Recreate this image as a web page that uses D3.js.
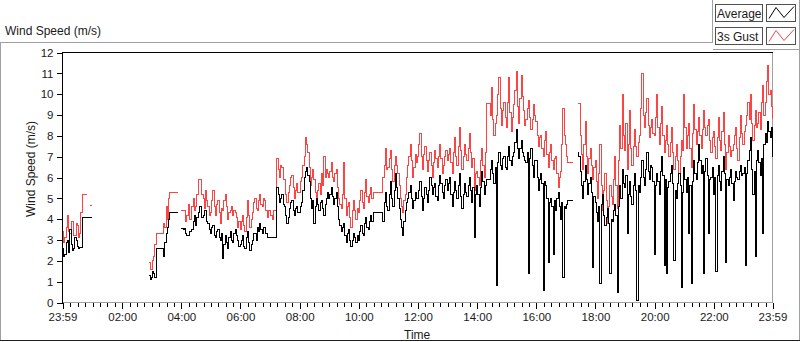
<!DOCTYPE html>
<html>
<head>
<meta charset="utf-8">
<script src="https://cdn.jsdelivr.net/npm/d3@7"></script>
<style>
  html, body { margin: 0; padding: 0; background: #fff; }
  svg text { font-family: "Liberation Sans", Arial, sans-serif; fill: #1a1a1a; }
</style>
</head>
<body>
<svg id="chart" width="800" height="342"></svg>
<script>
// one sample every 2.5 minutes, from 23:59 the day before to 23:59
const startTime = new Date(2020, 0, 1, 23, 59);
const stepSeconds = 150;
const seriesNames = ["Average", "3s Gust"];
const seriesColors = ["#000000", "#ff4242"];
const yTicks = [0, 1, 2, 3, 4, 5, 6, 7, 8, 9, 10, 11, 12];
const xTickLabels = ["23:59", "02:00", "04:00", "06:00", "08:00", "10:00", "12:00",
                     "14:00", "16:00", "18:00", "20:00", "22:00", "23:59"];

const average = [
  2.6, 2.2, 2.3, 2.9, 3.0, 2.4, 3.5, 2.8, 2.5, 2.6, 3.1, 3.0,
  2.7, 2.6, 2.65, 2.65, 4.1, 4.1, 4.1, 4.1, 4.1, 4.1, 4.1, 4.1,
  4.1, null, null, null, null, null, null, null, null, null, null, null,
  null, null, null, null, null, null, null, null, null, null, null, null,
  null, null, null, null, null, null, null, null, null, null, null, null,
  null, null, null, null, null, null, null, null, null, null, 1.3, 1.1,
  1.2, 1.5, 1.4, 1.2, 2.6, 2.6, 2.6, 2.6, 2.6, 2.6, 2.2, 2.9,
  3.3, 3.6, 4.0, 4.3, 4.3, 4.3, 4.3, 4.3, 4.3, 4.3, 4.3, null,
  3.55, 3.55, 3.5, 3.55, 3.3, 3.2, 3.2, 3.4, 3.4, 3.5, 3.9, 4.2,
  3.7, 4.1, 4.3, 4.6, 4.6, 4.1, 4.2, 4.4, 4.4, 3.9, 3.8, 3.5,
  3.3, 3.6, 3.7, 3.2, 3.1, 3.4, 3.5, 3.1, 3.0, 3.3, 2.1, 2.8,
  3.2, 2.9, 2.6, 3.1, 3.4, 3.0, 2.9, 3.3, 3.5, 3.2, 3.0, 2.7,
  2.8, 3.0, 3.2, 2.7, 2.6, 3.1, 3.4, 2.9, 2.5, 2.8, 3.0, 3.3,
  3.3, 3.0, 3.6, 3.4, 3.8, 3.5, 3.3, 3.6, 3.6, 3.3, 3.1, 3.1,
  3.1, 3.1, 3.1, 3.1, 3.1, 3.1, 5.5, 5.2, 4.8, 5.0, 5.2, 4.7,
  4.6, 4.2, 3.8, 4.1, 4.5, 4.8, 4.9, 4.4, 4.2, 4.5, 4.6, 4.3,
  4.3, 4.6, 4.8, 5.4, 6.0, 6.3, 6.5, 6.1, 5.8, 5.0, 4.5, 4.9,
  3.8, 4.6, 5.0, 4.7, 4.4, 4.8, 4.9, 4.5, 4.2, 4.7, 5.0, 5.3,
  5.0, 5.2, 5.5, 5.1, 4.7, 5.0, 5.3, 4.6, 4.0, 3.7, 3.4, 3.6,
  3.8, 3.2, 2.9, 3.3, 3.5, 3.0, 2.7, 3.0, 3.3, 3.1, 2.9, 3.2,
  3.0, 3.4, 3.7, 3.3, 3.2, 3.8, 4.1, 3.6, 3.5, 3.9, 4.2, 3.9,
  4.3, 4.3, 4.3, 4.3, 4.3, 4.3, 4.3, 4.3, 3.9, 4.8, 5.3, 4.6,
  4.4, 5.2, 5.8, 5.0, 4.6, 5.4, 6.2, 5.5, 5.0, 4.5, 4.0, 3.6,
  3.2, 3.9, 4.4, 4.8, 5.0, 5.3, 5.6, 5.0, 4.5, 4.9, 5.3, 5.0,
  5.0, 5.4, 5.8, 5.1, 4.4, 5.0, 5.5, 5.2, 4.8, 5.4, 6.0, 5.6,
  5.2, 5.5, 5.7, 5.1, 4.9, 5.6, 6.1, 5.7, 5.3, 5.0, 5.6, 5.9,
  5.4, 5.7, 6.0, 5.2, 4.6, 5.3, 5.8, 5.4, 5.0, 5.6, 6.2, 5.1,
  4.5, 5.2, 5.7, 5.3, 5.1, 5.6, 6.0, 5.4, 4.8, 5.5, 3.1, 5.2,
  5.6, 5.2, 4.6, 5.5, 6.3, 5.8, 5.2, 5.6, 5.9, 5.9, 5.9, 6.4,
  6.8, 6.2, 5.7, 6.5, 0.8, 6.7, 7.2, 6.6, 6.4, 6.9, 7.0, 6.5,
  6.4, 7.0, 7.5, 6.8, 6.6, 7.0, 7.2, 7.7, 8.3, 7.4, 6.9, 7.4,
  7.8, 7.2, 7.0, 6.8, 6.7, 7.2, 1.4, 6.9, 7.4, 6.6, 6.0, 6.8,
  6.8, 6.0, 5.4, 5.9, 6.2, 5.7, 0.6, 5.8, 5.6, 5.0, 1.9, 4.8,
  5.0, 4.6, 2.3, 4.9, 4.4, 5.0, 5.3, 4.6, 4.0, 4.8, 1.2, 4.6,
  4.5, 4.7, 4.9, 4.9, 4.9, 4.9, 4.9, null, null, null, 7.2, 7.0,
  6.3, 5.6, 5.0, 5.8, 6.6, 5.9, 5.2, 5.7, 6.0, 5.3, 1.7, 5.1,
  4.8, 4.3, 3.9, 4.6, 0.9, 4.7, 5.2, 4.2, 3.7, 4.1, 4.5, 3.8,
  1.4, 4.0, 3.9, 4.4, 4.7, 4.2, 0.5, 4.6, 5.6, 5.0, 6.4, 5.7,
  5.5, 6.1, 3.3, 5.2, 5.8, 5.1, 4.7, 5.6, 6.2, 5.4, 0.1, 5.6,
  5.3, 6.0, 6.8, 6.0, 5.6, 6.4, 7.2, 6.3, 5.9, 6.6, 6.5, 5.8,
  2.3, 5.6, 6.2, 5.8, 5.2, 6.3, 7.0, 6.1, 1.8, 5.9, 1.4, 5.5,
  5.8, 6.2, 6.6, 5.7, 2.0, 5.4, 5.0, 5.7, 6.2, 5.6, 0.7, 5.3,
  6.5, 5.9, 5.3, 6.0, 3.3, 5.6, 0.9, 5.8, 6.8, 6.2, 5.9, 6.7,
  7.6, 6.8, 6.2, 6.6, 1.4, 6.3, 6.9, 6.1, 3.3, 5.9, 6.0, 6.5,
  5.2, 6.0, 1.5, 6.1, 6.6, 5.8, 5.4, 6.3, 7.0, 6.2, 1.9, 5.9,
  5.6, 6.0, 6.4, 5.7, 4.9, 5.8, 6.3, 6.0, 5.9, 6.3, 6.6, 6.1,
  6.2, 6.5, 1.8, 6.2, 6.8, 7.3, 7.9, 6.4, 5.2, 6.3, 2.2, 6.8,
  7.3, 6.7, 6.1, 6.9, 3.3, 7.6, 8.1, 7.7, 8.7, 8.2, 7.9, 8.4,
  7.0
];

const gust = [
  3.4, 2.9, 3.1, 3.6, 4.2, 3.4, 3.3, 3.9, 3.9, 3.2, 3.2, 3.8,
  3.7, 3.1, 3.3, 4.3, 5.2, 5.2, 5.2, 5.2, 5.2, null, 4.65, 4.65,
  4.65, null, null, null, null, null, null, null, null, null, null, null,
  null, null, null, null, null, null, null, null, null, null, null, null,
  null, null, null, null, null, null, null, null, null, null, null, null,
  null, null, null, null, null, null, null, null, null, null, 1.9, 1.6,
  1.6, 2.0, 2.2, 2.8, 3.3, 3.3, 3.3, 3.3, 3.3, 3.3, 3.8, 3.6,
  4.6, 4.0, 5.0, 5.3, 5.3, 5.3, 5.3, 5.3, 5.3, 5.3, 5.3, null,
  4.4, 4.4, 4.4, 4.4, 3.9, 4.2, 4.7, 4.0, 4.0, 4.6, 5.0, 4.4,
  4.6, 5.2, 5.9, 5.9, 5.9, 5.2, 5.0, 4.5, 5.4, 4.9, 4.6, 4.2,
  4.3, 4.9, 5.4, 4.6, 4.2, 4.7, 4.9, 4.3, 3.8, 4.5, 4.4, 4.9,
  5.2, 4.6, 4.0, 4.3, 4.4, 4.6, 4.2, 4.4, 4.3, 4.1, 3.6, 3.9,
  3.5, 3.9, 4.2, 3.7, 3.4, 4.1, 4.9, 4.2, 3.6, 4.0, 4.3, 4.8,
  5.0, 4.5, 4.4, 4.9, 5.2, 4.7, 4.6, 5.0, 4.9, 4.4, 4.1, 4.4,
  4.4, 4.2, 4.0, 4.4, 4.4, 4.4, 6.9, 6.4, 6.0, 6.6, 6.5, 5.9,
  5.9, 5.2, 4.8, 5.3, 5.6, 6.0, 6.1, 5.5, 5.0, 5.4, 5.7, 5.3,
  5.3, 5.8, 6.0, 6.6, 7.0, 7.9, 7.6, 7.2, 6.5, 5.6, 6.0, 6.4,
  5.9, 5.3, 5.0, 5.4, 5.7, 5.2, 6.2, 5.6, 7.0, 6.0, 6.4, 6.2,
  6.0, 6.3, 6.7, 6.0, 5.8, 6.2, 6.4, 5.5, 5.0, 4.7, 4.5, 5.2,
  6.7, 5.0, 4.2, 4.6, 4.8, 4.1, 3.6, 4.4, 4.9, 4.4, 4.0, 4.5,
  4.3, 4.9, 5.4, 4.8, 4.5, 5.3, 5.9, 5.1, 4.8, 5.2, 5.5, 5.0,
  5.3, 5.3, 5.3, 5.3, 5.3, 5.3, 5.3, 5.3, 6.0, 6.6, 7.4, 6.4,
  6.5, 6.9, 7.3, 6.4, 5.8, 6.6, 7.0, 6.6, 6.2, 5.6, 5.0, 4.6,
  4.3, 4.9, 5.2, 6.0, 6.6, 7.0, 7.6, 6.8, 6.0, 6.5, 7.1, 6.7,
  7.0, 7.6, 8.1, 7.0, 6.4, 7.1, 7.5, 6.8, 6.3, 6.8, 7.2, 6.6,
  6.0, 6.7, 7.3, 6.9, 6.5, 7.0, 7.6, 6.9, 6.2, 6.6, 7.0, 7.3,
  6.8, 7.1, 7.4, 6.7, 6.2, 7.2, 7.9, 7.0, 6.6, 7.5, 8.4, 7.3,
  6.4, 7.0, 7.6, 7.1, 6.8, 7.4, 8.1, 7.2, 6.5, 6.9, 5.4, 6.2,
  6.3, 6.0, 5.6, 6.8, 7.4, 6.6, 6.0, 7.2, 9.55, 9.55, 9.55, 9.0,
  10.3, 8.8, 8.0, 8.6, 9.0, 10.0, 10.8, 9.3, 8.5, 9.2, 9.6, 8.9,
  8.4, 9.6, 10.8, 9.1, 8.2, 8.9, 9.5, 10.2, 11.1, 9.4, 8.6, 9.8,
  10.9, 9.9, 9.2, 8.5, 8.8, 9.3, 9.7, 8.9, 8.3, 8.8, 9.5, 9.0,
  8.7, 8.0, 7.5, 7.9, 8.0, 7.4, 7.0, 7.8, 8.2, 7.1, 6.5, 7.2,
  7.6, 6.8, 6.4, 6.9, 7.0, 6.2, 5.5, 6.0, 6.3, 7.6, 9.3, 8.0,
  7.6, 7.0, 6.7, 6.7, 6.7, 6.7, 6.7, null, null, null, 9.55, 9.55,
  8.0, 7.1, 6.4, 7.6, 8.7, 7.0, 6.2, 6.9, 7.4, 6.6, 5.9, 6.5,
  6.8, 5.8, 5.0, 6.2, 7.6, 5.6, 4.4, 5.4, 6.2, 4.9, 3.8, 4.6,
  5.6, 5.1, 4.7, 5.9, 7.0, 5.6, 4.5, 6.8, 8.5, 7.4, 10.0, 8.0,
  7.3, 8.6, 6.4, 7.6, 9.2, 7.4, 6.6, 7.5, 8.3, 7.5, 7.0, 7.7,
  8.0, 9.3, 11.0, 9.0, 8.4, 9.1, 9.8, 8.5, 7.9, 8.4, 8.8, 8.1,
  8.0, 8.9, 10.0, 8.4, 7.6, 8.6, 9.4, 8.0, 7.2, 7.8, 8.5, 7.6,
  7.0, 7.7, 8.4, 7.2, 6.4, 7.0, 7.6, 6.8, 6.2, 7.0, 7.8, 7.3,
  10.0, 8.4, 7.4, 8.0, 8.6, 7.4, 6.5, 8.1, 9.5, 8.3, 7.6, 8.2,
  8.9, 8.0, 7.4, 8.3, 9.2, 8.4, 8.0, 8.5, 8.8, 7.8, 7.2, 7.9,
  8.2, 7.5, 6.9, 7.9, 8.9, 7.8, 7.3, 8.2, 9.1, 7.6, 6.4, 7.2,
  8.0, 7.5, 7.0, 7.3, 7.6, 8.0, 8.4, 7.4, 6.8, 7.9, 9.0, 8.1,
  7.6, 8.2, 8.5, 9.0, 9.6, 8.8, 10.0, 8.6, 7.8, 8.5, 9.2, 8.4,
  8.6, 9.1, 8.3, 9.6, 10.4, 9.0, 9.6, 10.6, 11.4, 10.0, 10.2, 9.4,
  8.8
];

if (average.length !== 577 || gust.length !== 577) {
  throw new Error("series length " + average.length + " / " + gust.length);
}

const svg = d3.select("#chart");
const endTime = d3.timeMinute.offset(startTime, 24 * 60);

// plot box
const plotLeft = 62.5, plotRight = 772.5, plotTop = 52.5, plotBottom = 302.5;

const x = d3.scaleTime().domain([startTime, endTime]).range([plotLeft, plotRight]);
const y = d3.scaleLinear().domain([0, 12]).range([plotBottom, plotTop]);

// outer frame
const frame = svg.append("g").attr("fill", "none").attr("shape-rendering", "crispEdges");
frame.append("path").attr("stroke", "#a0a0a0")
  .attr("d", "M0.5,340 V42.5 H712.5 V0 M712.5,49.5 H799.5 M799.5,0 V340");
frame.append("path").attr("stroke", "#202020").attr("d", "M0,340.5 H800");

// legend
const legend = svg.append("g").attr("shape-rendering", "crispEdges");
seriesNames.forEach((name, i) => {
  const y0 = 4.5 + i * 23;
  legend.append("rect").attr("x", 715.5).attr("y", y0).attr("width", 47).attr("height", 17)
    .attr("fill", "#fff").attr("stroke", "#505050");
  legend.append("text").attr("x", 717).attr("y", y0 + 13).attr("font-size", 12).text(name);
  legend.append("rect").attr("x", 766.5).attr("y", y0).attr("width", 29).attr("height", 17)
    .attr("fill", "#fff").attr("stroke", "#505050");
  legend.append("path").attr("fill", "none").attr("stroke", seriesColors[i])
    .attr("shape-rendering", "auto")
    .attr("d", `M769,${y0 + 14} L776,${y0 + 3} L784,${y0 + 13} L794,${y0 + 2}`);
});

// titles
svg.append("text").attr("x", 5).attr("y", 35).attr("font-size", 12).text("Wind Speed (m/s)");
svg.append("text").attr("transform", "translate(35,169) rotate(-90)")
  .attr("text-anchor", "middle").attr("font-size", 12).text("Wind Speed (m/s)");
svg.append("text").attr("x", 404).attr("y", 339).attr("font-size", 12).text("Time");

// plot borders: top/left dark, bottom/right grey
svg.append("path").attr("fill", "none").attr("stroke", "#a0a0a0").attr("shape-rendering", "crispEdges")
  .attr("d", `M${plotLeft},${plotBottom} H${plotRight} V${plotTop}`);
svg.append("path").attr("fill", "none").attr("stroke", "#000").attr("shape-rendering", "crispEdges")
  .attr("d", `M${plotLeft},${plotBottom} V${plotTop} H${plotRight}`);

// y axis
const yAxis = svg.append("g").attr("transform", `translate(${plotLeft},0)`)
  .call(d3.axisLeft(y).tickValues(yTicks).tickSize(6).tickPadding(3).tickFormat(d3.format("d")));
yAxis.select(".domain").remove();
yAxis.selectAll("line").attr("stroke", "#000").attr("shape-rendering", "crispEdges");
yAxis.selectAll("text").attr("font-size", 11.5).attr("fill", "#1a1a1a")
  .attr("font-family", "Liberation Sans, Arial, sans-serif");

// x axis: majors from labels, minors every 15 minutes
const majorTimes = xTickLabels.map((lab, i) => {
  if (i === 0) return startTime;
  if (i === xTickLabels.length - 1) return endTime;
  const [h, m] = lab.split(":").map(Number);
  return new Date(2020, 0, 2, h, m);
});
const minorTimes = d3.timeMinute.every(15).range(new Date(2020, 0, 2, 0, 15), endTime)
  .filter(t => t.getMinutes() !== 0 || t.getHours() % 2 !== 0);

const xMinor = svg.append("g").attr("transform", `translate(0,${plotBottom})`)
  .call(d3.axisBottom(x).tickValues(minorTimes).tickSize(4).tickFormat(""));
xMinor.select(".domain").remove();
xMinor.selectAll("line").attr("stroke", "#000").attr("shape-rendering", "crispEdges");

const xAxis = svg.append("g").attr("transform", `translate(0,${plotBottom})`)
  .call(d3.axisBottom(x).tickValues(majorTimes).tickSize(6).tickPadding(4)
    .tickFormat((d, i) => xTickLabels[i]));
xAxis.select(".domain").remove();
xAxis.selectAll("line").attr("stroke", "#000").attr("shape-rendering", "crispEdges");
xAxis.selectAll("text").attr("font-size", 11.5).attr("fill", "#1a1a1a")
  .attr("font-family", "Liberation Sans, Arial, sans-serif");

// series
const toPoints = vals => vals.map((v, i) => ({ t: d3.timeSecond.offset(startTime, i * stepSeconds), v }));
const line = d3.line()
  .defined(d => d.v !== null)
  .x(d => x(d.t))
  .y(d => y(d.v))
  .curve(d3.curveStepAfter);

const plot = svg.append("g");
[gust, average].forEach((vals, k) => {
  plot.append("path")
    .datum(toPoints(vals))
    .attr("fill", "none")
    .attr("stroke", k === 0 ? seriesColors[1] : seriesColors[0])
    .attr("stroke-width", 1)
    .attr("shape-rendering", "crispEdges")
    .attr("d", line);
});
</script>
</body>
</html>
